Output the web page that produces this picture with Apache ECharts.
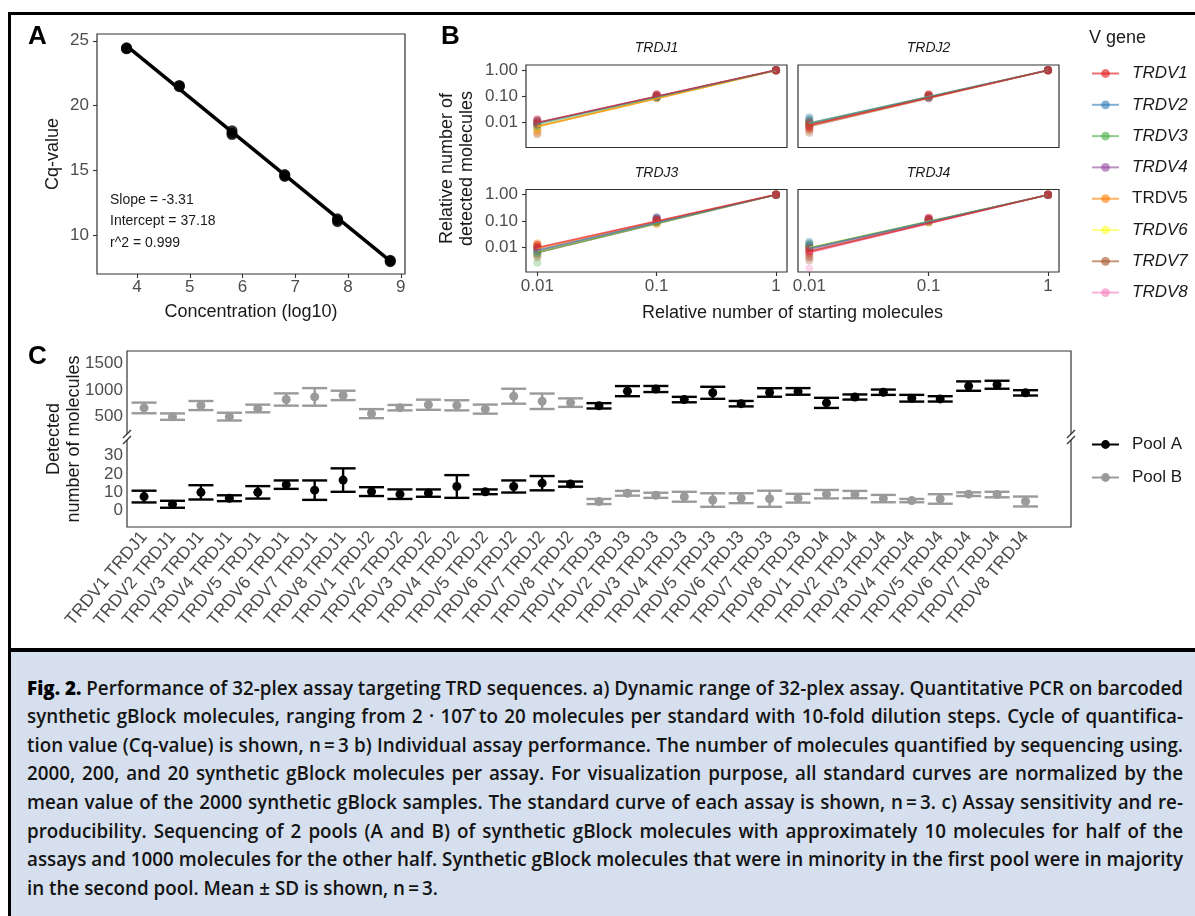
<!DOCTYPE html>
<html>
<head>
<meta charset="utf-8">
<title>Fig. 2</title>
<script src="https://cdn.jsdelivr.net/npm/echarts@6.0.0/dist/echarts.min.js"></script>
<style>
html,body{margin:0;padding:0;width:1195px;height:916px;overflow:hidden;background:#fff;}
#frame{position:absolute;left:8px;top:12px;width:1187px;height:904px;border-left:3px solid #000;border-top:3px solid #000;box-sizing:border-box;z-index:0;}
#chart{position:absolute;left:0;top:0;width:1195px;height:648px;z-index:2;}
#caption{position:absolute;left:11px;top:648px;width:1184px;height:268px;background:#d5dfee;border-top:4px solid #000;box-sizing:border-box;padding:21.7px 0 0 16px;z-index:1;overflow:hidden;font-family:"Open Sans","Noto Sans",sans-serif;font-size:19.5px;font-weight:600;color:#141414;}
.cl{height:28.6px;line-height:28.6px;white-space:nowrap;text-align:justify;text-align-last:justify;transform-origin:0 0;}
.cl.last{text-align-last:left;}
.cl b{font-weight:800;color:#000;}
</style>
</head>
<body>
<div id="frame"></div>
<div id="chart"></div>
<div id="caption"></div>
<script>
// ================= DATA =================
// Panel A: qPCR standard curve
const concA = [3.8, 3.8, 3.8, 4.8, 4.8, 4.8, 5.8, 5.8, 5.8, 6.8, 6.8, 6.8, 7.8, 7.8, 7.8, 8.8, 8.8, 8.8];
const cqA   = [24.42, 24.46, 24.38, 21.56, 21.47, 21.52, 18.08, 17.78, 17.90, 14.64, 14.70, 14.56, 11.30, 11.08, 11.20, 8.06, 8.10, 8.00];
const fitA  = [[3.8, 24.60], [8.82, 7.99]];           // fitted regression line end points
const annotA = ['Slope = -3.31', 'Intercept = 37.18', 'r^2 = 0.999'];
const concTicks = [4, 5, 6, 7, 8, 9];
const cqTicks = [10, 15, 20, 25];

// Panel B: relative detected molecules (rows: TRDV1..TRDV8, columns: replicates)
const vGenes = ['TRDV1', 'TRDV2', 'TRDV3', 'TRDV4', 'TRDV5', 'TRDV6', 'TRDV7', 'TRDV8'];
const jGenes = ['TRDJ1', 'TRDJ2', 'TRDJ3', 'TRDJ4'];
const startLevels = [0.01, 0.1, 1];
const relYTicks = [0.01, 0.1, 1];

const relJ1_001 = [[0.011,0.009,0.013],[0.010,0.012,0.008],[0.009,0.011,0.007],[0.012,0.009,0.010],[0.006,0.004,0.008],[0.007,0.0055,0.009],[0.005,0.0035,0.008],[0.010,0.013,0.008]];
const relJ1_01  = [[0.11,0.10,0.12],[0.09,0.10,0.11],[0.10,0.09,0.11],[0.11,0.10,0.09],[0.085,0.09,0.10],[0.09,0.085,0.10],[0.095,0.10,0.09],[0.12,0.10,0.11]];
const relJ1_1   = [[1.02,0.98,1.00],[1.01,0.99,1.00],[0.99,1.01,1.00],[1.00,1.02,0.98],[0.98,1.00,1.02],[1.01,0.99,1.00],[1.00,0.98,1.02],[1.02,1.00,0.98]];
const fitJ1     = [[0.0100,1.02],[0.0095,1.00],[0.0085,0.99],[0.0098,1.00],[0.0068,0.98],[0.0070,0.98],[0.0072,0.99],[0.0095,1.01]];

const relJ2_001 = [[0.008,0.006,0.010],[0.014,0.012,0.016],[0.010,0.012,0.009],[0.009,0.007,0.011],[0.008,0.006,0.009],[0.011,0.013,0.010],[0.005,0.004,0.007],[0.007,0.009,0.006]];
const relJ2_01  = [[0.12,0.11,0.10],[0.10,0.09,0.11],[0.10,0.11,0.095],[0.09,0.10,0.085],[0.10,0.09,0.11],[0.11,0.10,0.09],[0.095,0.085,0.10],[0.11,0.12,0.10]];
const relJ2_1   = [[1.00,1.03,0.97],[0.99,1.01,1.00],[1.02,0.98,1.00],[1.00,0.99,1.01],[0.98,1.01,1.01],[1.00,1.02,0.98],[0.99,1.00,1.01],[1.01,0.99,1.00]];
const fitJ2     = [[0.0078,1.00],[0.0095,1.00],[0.0092,1.00],[0.0085,1.00],[0.0080,0.99],[0.0095,1.00],[0.0070,1.00],[0.0080,1.00]];

const relJ3_001 = [[0.010,0.012,0.009],[0.008,0.010,0.007],[0.006,0.0025,0.005],[0.007,0.009,0.006],[0.014,0.011,0.012],[0.008,0.006,0.010],[0.005,0.006,0.004],[0.011,0.013,0.009]];
const relJ3_01  = [[0.11,0.12,0.10],[0.14,0.12,0.13],[0.09,0.10,0.085],[0.12,0.10,0.11],[0.08,0.09,0.075],[0.09,0.10,0.085],[0.10,0.09,0.11],[0.12,0.11,0.13]];
const relJ3_1   = [[1.01,0.99,1.00],[1.00,1.02,0.98],[0.98,1.00,1.01],[1.00,0.99,1.02],[0.99,1.00,0.97],[1.01,0.98,1.00],[1.00,1.01,0.99],[1.02,0.99,1.00]];
const fitJ3     = [[0.0095,1.01],[0.0075,1.00],[0.0062,0.99],[0.0072,1.00],[0.0085,0.99],[0.0070,0.99],[0.0060,1.00],[0.0090,1.00]];

const relJ4_001 = [[0.007,0.009,0.006],[0.016,0.013,0.011],[0.012,0.010,0.014],[0.008,0.010,0.007],[0.011,0.009,0.012],[0.012,0.010,0.009],[0.004,0.003,0.005],[0.0015,0.006,0.004]];
const relJ4_01  = [[0.13,0.11,0.12],[0.11,0.10,0.12],[0.10,0.11,0.09],[0.12,0.11,0.10],[0.09,0.10,0.085],[0.09,0.10,0.095],[0.10,0.11,0.09],[0.12,0.13,0.11]];
const relJ4_1   = [[1.00,0.98,1.02],[0.99,1.00,0.97],[0.98,1.00,0.99],[1.01,0.99,1.00],[0.98,0.99,1.00],[0.97,0.99,1.00],[1.00,0.98,1.01],[1.01,1.00,0.99]];
const fitJ4     = [[0.0065,1.00],[0.0090,0.98],[0.0092,0.98],[0.0080,0.99],[0.0088,0.98],[0.0095,0.97],[0.0070,0.99],[0.0060,1.00]];

// Panel C: detected molecules, mean and SD per assay (order: TRDV1..8 x TRDJ1..4)
const poolA_mean = [7.7, 3.5, 10.0, 6.8, 10.0, 14.2, 11.2, 16.7, 10.4, 9.0, 9.6, 13.2, 10.3, 13.2, 15.0, 14.5,
                    700, 975, 1015, 817, 944, 740, 950, 970, 755, 865, 955, 842, 830, 1070, 1095, 943];
const poolA_sd   = [3.2, 1.9, 3.9, 1.6, 3.4, 2.3, 5.3, 6.4, 2.4, 2.6, 2.0, 6.2, 1.3, 3.3, 3.9, 1.4,
                    50, 95, 57, 51, 113, 51, 80, 62, 95, 48, 50, 63, 50, 88, 75, 50];
const poolB_mean = [660, 497, 705, 497, 650, 818, 867, 895, 553, 665, 720, 709, 638, 880, 785, 760,
                    5.0, 9.5, 8.4, 7.6, 5.8, 6.8, 6.5, 6.8, 9.0, 8.8, 6.6, 5.5, 6.4, 9.0, 8.8, 5.0];
const poolB_sd   = [100, 60, 85, 73, 72, 115, 165, 88, 85, 51, 95, 95, 85, 140, 145, 80,
                    1.4, 1.3, 1.4, 2.7, 3.7, 2.7, 4.4, 2.4, 2.3, 2.0, 2.0, 0.9, 2.6, 1.0, 1.5, 2.7];
const cUpperTicks = [500, 1000, 1500];
const cLowerTicks = [0, 10, 20, 30];

const captionLines = [
  'Performance of 32-plex assay targeting TRD sequences. a) Dynamic range of 32-plex assay. Quantitative PCR on barcoded',
  'synthetic gBlock molecules, ranging from 2 \u00b7 107\u0302 to 20 molecules per standard with 10-fold dilution steps. Cycle of quantifica-',
  'tion value (Cq-value) is shown, n\u2009=\u20093 b) Individual assay performance. The number of molecules quantified by sequencing using.',
  '2000, 200, and 20 synthetic gBlock molecules per assay. For visualization purpose, all standard curves are normalized by the',
  'mean value of the 2000 synthetic gBlock samples. The standard curve of each assay is shown, n\u2009=\u20093. c) Assay sensitivity and re-',
  'producibility. Sequencing of 2 pools (A and B) of synthetic gBlock molecules with approximately 10 molecules for half of the',
  'assays and 1000 molecules for the other half. Synthetic gBlock molecules that were in minority in the first pool were in majority',
  'in the second pool. Mean \u00b1 SD is shown, n\u2009=\u20093.'
];

// ================= CAPTION =================
(function(){
  const cap = document.getElementById('caption');
  const divs = captionLines.map((t, i) => {
    const d = document.createElement('div');
    d.className = 'cl' + (i === captionLines.length - 1 ? ' last' : '');
    const s = document.createElement('span');
    if (i === 0) { const b = document.createElement('b'); b.textContent = 'Fig. 2. '; s.appendChild(b); }
    s.appendChild(document.createTextNode(t));
    d.appendChild(s); cap.appendChild(d);
    return d;
  });
  const targetW = 1156;
  const widths = divs.map(d => d.firstChild.getBoundingClientRect().width);
  const maxW = Math.max.apply(null, widths.slice(0, widths.length - 1));
  const sc = Math.min(1, targetW / maxW);
  divs.forEach(d => {
    d.style.width = (targetW / sc) + 'px';
    d.style.transform = 'scaleX(' + sc + ')';
  });
})();

// ================= CHART =================
const FONT = '"Liberation Sans", Arial, Helvetica, sans-serif';
const C_TICK = '#4d4d4d', C_TEXT = '#1a1a1a', C_BORDER = '#333333';
const set1 = ['228,26,28','55,126,184','77,175,74','152,78,163','255,127,0','255,255,51','166,86,40','247,129,191'];
const lineCol = v => 'rgba(' + set1[v] + ',0.62)';
const ptCol = v => 'rgba(' + set1[v] + ',0.4)';

const layA = {left: 97, top: 34, width: 308, height: 240};
const layB = {cols: [526, 798], rows: [65, 189.5], width: 261, height: 82.5};
const layC = {left: 127, top: 351, width: 944, upperH: 86, lowerH: 90};
const cUnit = layC.width / (32 + 1.2);

const cCats = [];
jGenes.forEach(j => vGenes.forEach(v => cCats.push(v + ' ' + j)));

const baseTick = {length: 4, lineStyle: {color: C_BORDER, width: 1.1}};
const baseLabel = {color: C_TICK, fontSize: 17, fontFamily: FONT, hideOverlap: false};

const grids = [];
const xAxes = [];
const yAxes = [];
const series = [];

// --- Panel A ---
grids.push({left: layA.left, top: layA.top, width: layA.width, height: layA.height, show: true,
  borderColor: C_BORDER, borderWidth: 1.2, backgroundColor: 'rgba(0,0,0,0)', outerBoundsMode: 'none', containLabel: false});
xAxes.push({gridIndex: 0, type: 'value', min: 3.24, max: 9.08, axisLine: {show: false}, splitLine: {show: false},
  axisTick: Object.assign({customValues: concTicks}, baseTick),
  axisLabel: Object.assign({customValues: concTicks, margin: 5}, baseLabel),
  name: 'Concentration (log10)', nameLocation: 'middle', nameGap: 29, nameMoveOverlap: false,
  nameTextStyle: {fontSize: 18, color: C_TEXT, fontFamily: FONT}});
yAxes.push({gridIndex: 0, type: 'value', min: 7.05, max: 25.52, axisLine: {show: false}, splitLine: {show: false},
  axisTick: Object.assign({customValues: cqTicks}, baseTick),
  axisLabel: Object.assign({customValues: cqTicks, margin: 8}, baseLabel),
  name: 'Cq-value', nameLocation: 'middle', nameRotate: 90, nameGap: 35, nameMoveOverlap: false,
  nameTextStyle: {fontSize: 18, color: C_TEXT, fontFamily: FONT}});
series.push({type: 'line', name: 'fit', xAxisIndex: 0, yAxisIndex: 0, data: fitA, symbol: 'none',
  lineStyle: {color: '#000', width: 3.5}, silent: true, z: 3});
series.push({type: 'scatter', name: 'Cq', xAxisIndex: 0, yAxisIndex: 0,
  data: concA.map((x, i) => [x, cqA[i]]), symbolSize: 11, itemStyle: {color: '#000'}, z: 4});

// --- Panel B ---
const relLow = [relJ1_001, relJ2_001, relJ3_001, relJ4_001];
const relMid = [relJ1_01, relJ2_01, relJ3_01, relJ4_01];
const relHigh = [relJ1_1, relJ2_1, relJ3_1, relJ4_1];
const relFit = [fitJ1, fitJ2, fitJ3, fitJ4];
for (let p = 0; p < 4; p++) {
  const r = Math.floor(p / 2), c = p % 2;
  grids.push({left: layB.cols[c], top: layB.rows[r], width: layB.width, height: layB.height, show: true,
    borderColor: C_BORDER, borderWidth: 1.2, backgroundColor: 'rgba(0,0,0,0)', outerBoundsMode: 'none', containLabel: false});
  xAxes.push({gridIndex: p + 1, type: 'log', logBase: 10, min: 0.00804, max: 1.236,
    axisLine: {show: false}, splitLine: {show: false}, minorTick: {show: false},
    axisTick: Object.assign({show: r === 1, customValues: startLevels}, baseTick),
    axisLabel: Object.assign({show: r === 1, customValues: startLevels, margin: 6,
      formatter: v => String(+(+v).toPrecision(3))}, baseLabel)});
  yAxes.push({gridIndex: p + 1, type: 'log', logBase: 10, min: 0.0011, max: 1.585,
    axisLine: {show: false}, splitLine: {show: false}, minorTick: {show: false},
    axisTick: Object.assign({show: c === 0, customValues: relYTicks}, baseTick),
    axisLabel: Object.assign({show: c === 0, customValues: relYTicks, margin: 8,
      formatter: v => (+v).toFixed(2)}, baseLabel)});
}
// fitted lines (first, so legend icons are line + dot)
for (let p = 0; p < 4; p++) {
  for (let v = vGenes.length - 1; v >= 0; v--) {
    series.push({type: 'line', name: vGenes[v], xAxisIndex: p + 1, yAxisIndex: p + 1,
      data: [[startLevels[0], relFit[p][v][0]], [startLevels[2], relFit[p][v][1]]],
      symbol: 'circle', symbolSize: 8, showSymbol: false,
      lineStyle: {color: lineCol(v), width: 1.6}, itemStyle: {color: lineCol(v)}, z: 3, silent: true});
  }
}
for (let p = 0; p < 4; p++) {
  for (let v = vGenes.length - 1; v >= 0; v--) {
    const reps = [relLow[p][v], relMid[p][v], relHigh[p][v]];
    const data = [];
    reps.forEach((arr, k) => arr.forEach(y => data.push([startLevels[k], y])));
    series.push({type: 'scatter', name: vGenes[v], xAxisIndex: p + 1, yAxisIndex: p + 1, data,
      symbolSize: 8, itemStyle: {color: ptCol(v)}, z: 2, silent: true});
  }
}

// --- Panel C (broken y axis: upper & lower segments) ---
const cGridLeft = layC.left + 0.1 * cUnit, cGridWidth = 32 * cUnit;
grids.push({left: cGridLeft, top: layC.top, width: cGridWidth, height: layC.upperH, show: false, outerBoundsMode: 'none', containLabel: false});
grids.push({left: cGridLeft, top: layC.top + layC.upperH, width: cGridWidth, height: layC.lowerH, show: false, outerBoundsMode: 'none', containLabel: false});
xAxes.push({gridIndex: 5, type: 'category', data: cCats, show: false});
xAxes.push({gridIndex: 6, type: 'category', data: cCats, axisLine: {show: false}, splitLine: {show: false},
  axisTick: Object.assign({alignWithLabel: true, interval: 0}, baseTick),
  axisLabel: Object.assign({}, baseLabel, {interval: 0, rotate: 50, margin: 7, fontSize: 17.5})});
yAxes.push({gridIndex: 5, type: 'value', min: 115, max: 1728, axisLine: {show: false}, splitLine: {show: false},
  axisTick: Object.assign({customValues: cUpperTicks}, baseTick),
  axisLabel: Object.assign({customValues: cUpperTicks, margin: 7, formatter: v => String(v)}, baseLabel)});
yAxes.push({gridIndex: 6, type: 'value', min: -8.9, max: 40.2, axisLine: {show: false}, splitLine: {show: false},
  axisTick: Object.assign({customValues: cLowerTicks}, baseTick),
  axisLabel: Object.assign({customValues: cLowerTicks, margin: 7, formatter: v => String(v)}, baseLabel)});

const cPools = [
  {name: 'Pool A', mean: poolA_mean, sd: poolA_sd, color: '#000000'},
  {name: 'Pool B', mean: poolB_mean, sd: poolB_sd, color: '#9a9a9a'}
];
const cSplit = 100; // values above this sit in the upper segment
cPools.forEach(pool => {
  [5, 6].forEach(ax => {
    const upper = ax === 5;
    const data = [];
    pool.mean.forEach((m, i) => { if ((m > cSplit) === upper) data.push([cCats[i], m]); });
    series.push({type: 'line', name: pool.name, xAxisIndex: ax, yAxisIndex: ax, data,
      symbol: 'circle', symbolSize: 9, showSymbol: true, showAllSymbol: true,
      lineStyle: {color: pool.color, width: 0, opacity: 0}, itemStyle: {color: pool.color}, z: 6, silent: true});
  });
});
function errBar(color) {
  return function (params, api) {
    const xi = api.value(0);
    const lo = api.coord([xi, api.value(1)]);
    const hi = api.coord([xi, api.value(2)]);
    const half = api.size([1, 0])[0] * 0.44;
    const st = () => ({stroke: color, lineWidth: 2.4, fill: null});
    return {type: 'group', children: [
      {type: 'line', shape: {x1: lo[0], y1: lo[1], x2: hi[0], y2: hi[1]}, style: st()},
      {type: 'line', shape: {x1: lo[0] - half, y1: lo[1], x2: lo[0] + half, y2: lo[1]}, style: st()},
      {type: 'line', shape: {x1: hi[0] - half, y1: hi[1], x2: hi[0] + half, y2: hi[1]}, style: st()}
    ]};
  };
}
cPools.forEach(pool => {
  [5, 6].forEach(ax => {
    const upper = ax === 5;
    const data = [];
    pool.mean.forEach((m, i) => { if ((m > cSplit) === upper) data.push([i, m - pool.sd[i], m + pool.sd[i]]); });
    series.push({type: 'custom', name: pool.name, xAxisIndex: ax, yAxisIndex: ax, data,
      encode: {x: 0, y: [1, 2]}, renderItem: errBar(pool.color), z: 5, silent: true});
  });
});

// --- Graphic texts & decorations ---
const txt = (x, y, text, font, align, fill) => ({type: 'text', x, y, silent: true, z: 50,
  style: {text, font, fill: fill || C_TEXT, align: align, textAlign: align, verticalAlign: 'middle', textVerticalAlign: 'middle'}});
const g = [];
g.push(txt(28, 37, 'A', 'bold 26px ' + FONT, 'left', '#000'));
g.push(txt(441, 37, 'B', 'bold 26px ' + FONT, 'left', '#000'));
g.push(txt(28, 357, 'C', 'bold 26px ' + FONT, 'left', '#000'));
annotA.forEach((t, i) => g.push(txt(layA.left + 13, 200 + i * 21.4, t, '14px ' + FONT, 'left')));
jGenes.forEach((j, p) => {
  const r = Math.floor(p / 2), c = p % 2;
  g.push(txt(layB.cols[c] + layB.width / 2, layB.rows[r] - 16.5, j, 'italic 14px ' + FONT, 'center'));
});
g.push(txt((layB.cols[0] + layB.cols[1] + layB.width) / 2, 313, 'Relative number of starting molecules', '18px ' + FONT, 'center'));
g.push({type: 'text', x: 457, y: (layB.rows[0] + layB.rows[1] + layB.height) / 2, rotation: Math.PI / 2, silent: true, z: 50,
  style: {text: 'Relative number of\ndetected molecules', font: '18px ' + FONT, lineHeight: 20, fill: C_TEXT,
    align: 'center', textAlign: 'center', verticalAlign: 'middle', textVerticalAlign: 'middle'}});
g.push(txt(1089, 38, 'V gene', '18px ' + FONT, 'left'));
g.push({type: 'text', x: 64, y: layC.top + (layC.upperH + layC.lowerH) / 2, rotation: Math.PI / 2, silent: true, z: 50,
  style: {text: 'Detected\nnumber of molecules', font: '18px ' + FONT, lineHeight: 20, fill: C_TEXT,
    align: 'center', textAlign: 'center', verticalAlign: 'middle', textVerticalAlign: 'middle'}});
// panel C frame with axis-break marks
g.push({type: 'rect', silent: true, z: 40, shape: {x: layC.left, y: layC.top, width: layC.width, height: layC.upperH + layC.lowerH},
  style: {fill: null, stroke: C_BORDER, lineWidth: 1.2}});
const breakY = layC.top + layC.upperH;
[layC.left, layC.left + layC.width].forEach(bx => {
  g.push({type: 'rect', silent: true, z: 41, shape: {x: bx - 3, y: breakY - 3, width: 6, height: 6}, style: {fill: '#fff'}});
  [-3, 3].forEach(dy => g.push({type: 'line', silent: true, z: 42,
    shape: {x1: bx - 4, y1: breakY + dy + 4, x2: bx + 4, y2: breakY + dy - 4}, style: {stroke: C_BORDER, lineWidth: 1.2}}));
});

const richText = {
  i: {fontStyle: 'italic', fontSize: 17, color: C_TEXT, fontFamily: FONT, padding: [0, 0, 0, 8]},
  n: {fontSize: 17, color: C_TEXT, fontFamily: FONT, padding: [0, 0, 0, 8]}
};

const option = {
  animation: false,
  backgroundColor: 'rgba(0,0,0,0)',
  textStyle: {fontFamily: FONT},
  grid: grids,
  xAxis: xAxes,
  yAxis: yAxes,
  legend: [
    {data: vGenes, orient: 'vertical', left: 1091, top: 65, padding: 0, itemWidth: 27, itemHeight: 11, itemGap: 14.3,
      selectedMode: false, formatter: name => (name === 'TRDV5' ? '{n|' : '{i|') + name + '}',
      textStyle: {fontSize: 17, color: C_TEXT, fontFamily: FONT, rich: richText}},
    {data: ['Pool A', 'Pool B'], orient: 'vertical', left: 1091, top: 436, padding: 0, itemWidth: 27, itemHeight: 11, itemGap: 16,
      selectedMode: false, lineStyle: {width: 2, opacity: 1}, formatter: name => '{n|' + name + '}',
      textStyle: {fontSize: 17, color: C_TEXT, fontFamily: FONT, rich: richText}}
  ],
  graphic: {elements: g},
  series
};
const chart = echarts.init(document.getElementById('chart'), null, {renderer: 'canvas'});
chart.setOption(option);
</script>
</body>
</html>
